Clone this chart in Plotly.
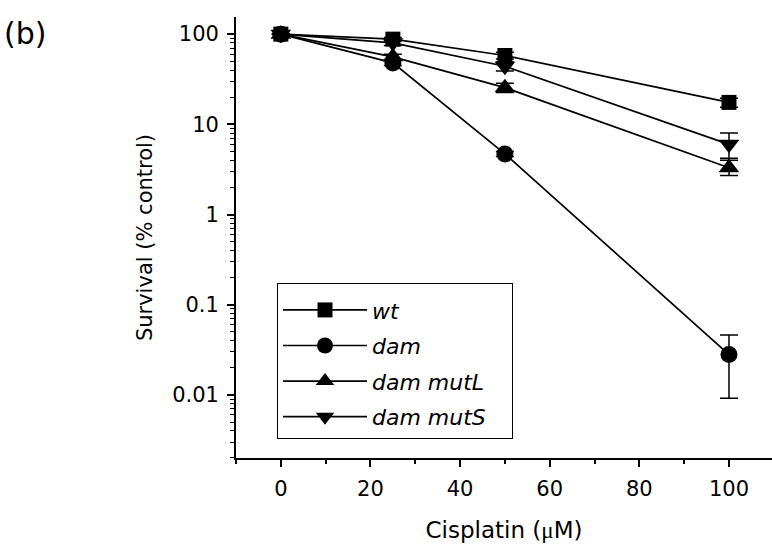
import plotly.graph_objects as go

dose = [0, 25, 50, 100]

wt = [100, 88, 58, 17.5]
wt_err = [0, 4, 5, 2]

dam = [100, 48, 4.7, 0.028]
dam_err_plus = [0, 3, 0.3, 0.018]
dam_err_minus = [0, 3, 0.3, 0.0188]

mutL = [100, 56, 25.5, 3.3]
mutL_err_plus = [0, 4, 3, 0.9]
mutL_err_minus = [0, 4, 3, 0.6]

mutS = [100, 80, 44, 6.0]
mutS_err = [0, 5, 5, 2.0]

names = ["wt", "dam", "dam mutL", "dam mutS"]
symbols = ["square", "circle", "triangle-up", "triangle-down"]
sizes = [15, 17, 18, 18]

series = [
    (wt, wt_err, wt_err),
    (dam, dam_err_plus, dam_err_minus),
    (mutL, mutL_err_plus, mutL_err_minus),
    (mutS, mutS_err, mutS_err),
]

FONT = "DejaVu Sans, Liberation Sans, Arial, sans-serif"

fig = go.Figure()
for i, ((ys, ep, em), name) in enumerate(zip(series, names)):
    fig.add_trace(go.Scatter(
        x=dose, y=ys, name=f"<i>{name}</i>\u00a0\u00a0\u00a0", mode="lines+markers",
        line=dict(color="black", width=1.7),
        marker=dict(symbol=symbols[i], size=sizes[i], color="black"),
        error_y=dict(type="data", array=ep, arrayminus=em, symmetric=False,
                     color="black", thickness=1.5, width=9),
        legendgroup=str(i),
    ))

fig.update_layout(
    width=772, height=550,
    margin=dict(l=236, r=0, t=17, b=92),
    paper_bgcolor="white", plot_bgcolor="white",
    font=dict(family=FONT, color="black", size=21),
    showlegend=True,
    legend=dict(x=0.0765, y=0.397, xanchor="left", yanchor="top",
                bgcolor="white", bordercolor="black", borderwidth=1,
                font=dict(size=22, family=FONT), itemwidth=84,
                tracegroupgap=4, traceorder="grouped",
                title=dict(text=" ", font=dict(size=4))),
    xaxis=dict(range=[-10, 109.6], showline=True, linecolor="black", linewidth=1.8,
               ticks="outside", ticklen=7, tickwidth=1.5, tickcolor="black",
               tickvals=[0, 20, 40, 60, 80, 100], showgrid=False, zeroline=False,
               ticklabelstandoff=4,
               minor=dict(ticks="outside", ticklen=4, tickwidth=1.5, tickcolor="black",
                          tickvals=[-10, 10, 30, 50, 70, 90], showgrid=False),
               title=dict(text="Cisplatin (<span style=\"font-family:'Liberation Serif', serif\">μ</span>M)",
                          font=dict(size=23), standoff=22)),
    yaxis=dict(type="log", range=[-2.70, 2.19], showline=True, linecolor="black", linewidth=1.8,
               ticks="outside", ticklen=7, tickwidth=1.5, tickcolor="black",
               tickvals=[0.01, 0.1, 1, 10, 100], ticktext=["0.01", "0.1", "1", "10", "100"],
               showgrid=False, zeroline=False, ticklabelstandoff=4,
               minor=dict(ticks="outside", ticklen=4, tickwidth=1, tickcolor="black",
                          dtick="D1", showgrid=False),
               title=dict(text="Survival (% control)", font=dict(size=21), standoff=14)),
)

fig.add_annotation(text="(b)", xref="paper", yref="paper", x=-0.437, y=0.962,
                   xanchor="left", yanchor="middle", showarrow=False,
                   font=dict(size=30, family=FONT))

fig.write_html("out.html")
